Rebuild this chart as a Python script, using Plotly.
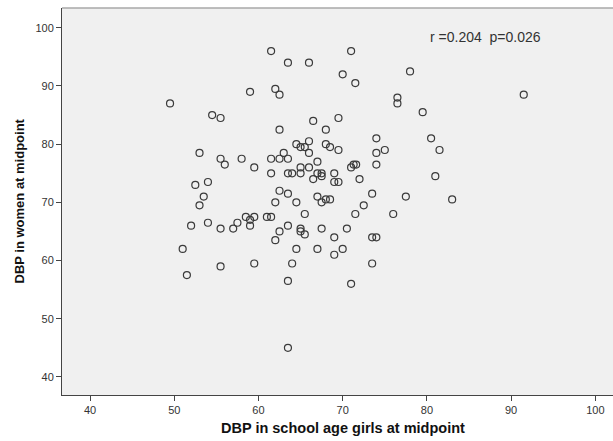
import plotly.graph_objects as go

# DBP in school age girls at midpoint (x) vs DBP in women at midpoint (y)
girls_dbp = [
    61.5, 71, 63.5, 66, 70, 78, 71.5, 59, 62, 62.5, 91.5, 76.5, 76.5, 49.5,
    54.5, 55.5, 79.5, 69.5, 66.5, 62.5, 68, 74, 80.5, 66, 64.5, 68, 65, 65.5,
    68.5, 69.5, 75, 81.5, 53, 63, 66, 74, 55.5, 58, 61.5, 62.5, 63.5, 67,
    56, 71.3, 71.6, 71, 74, 59.5, 65, 66, 61.5, 63.5, 64, 65, 67, 67.5,
    67.5, 69, 66.5, 72, 81, 69, 69.5, 54, 52.5, 62.5, 63.5, 73.5, 53.5, 67,
    77.5, 53, 62, 64.5, 67.5, 68, 68.5, 83, 72.5, 65.5, 71.5, 76, 58.5, 59.5,
    61, 61.5, 59, 57.5, 54, 52, 59, 63.5, 55.5, 57, 65, 67.5, 70.5, 62.5,
    65, 65.5, 69, 73.5, 74, 62, 51, 64.5, 67, 70, 69, 55.5, 59.5, 64,
    73.5, 51.5, 63.5, 71, 63.5,
]
women_dbp = [
    96, 96, 94, 94, 92, 92.5, 90.5, 89, 89.5, 88.5, 88.5, 88, 87, 87,
    85, 84.5, 85.5, 84.5, 84, 82.5, 82.5, 81, 81, 80.5, 80, 80, 79.5, 79.5,
    79.5, 79, 79, 79, 78.5, 78.5, 78.5, 78.5, 77.5, 77.5, 77.5, 77.5, 77.5, 77,
    76.5, 76.5, 76.5, 76, 76.5, 76, 76, 76, 75, 75, 75, 75, 75, 75,
    74.5, 75, 74, 74, 74.5, 73.5, 73.5, 73.5, 73, 72, 71.5, 71.5, 71, 71,
    71, 69.5, 70, 70, 70, 70.5, 70.5, 70.5, 69.5, 68, 68, 68, 67.5, 67.5,
    67.5, 67.5, 67, 66.5, 66.5, 66, 66, 66, 65.5, 65.5, 65.5, 65.5, 65.5, 65,
    65, 64.5, 64, 64, 64, 63.5, 62, 62, 62, 62, 61, 59, 59.5, 59.5,
    59.5, 57.5, 56.5, 56, 45,
]

x_ticks = [40, 50, 60, 70, 80, 90, 100]
y_ticks = [40, 50, 60, 70, 80, 90, 100]
stats_text = "r =0.204&nbsp;&nbsp;p=0.026"
x_title = "DBP in school age girls at midpoint"
y_title = "DBP in women at midpoint"

FONT = "Liberation Sans, Arial, sans-serif"

fig = go.Figure()
fig.add_trace(go.Scatter(
    x=girls_dbp, y=women_dbp, mode="markers",
    marker=dict(symbol="circle-open", size=7, color="#3a3a3a",
                line=dict(width=1.2, color="#3a3a3a")),
    showlegend=False, hoverinfo="x+y",
))

axis_common = dict(
    showgrid=False, zeroline=False, showline=True, linecolor="#444444",
    linewidth=1, ticks="outside", ticklen=5, tickwidth=1, tickcolor="#444444",
    tickfont=dict(family=FONT, size=11, color="#333333"),
)
fig.update_xaxes(range=[36.67, 102.1], tickvals=x_ticks, **axis_common)
fig.update_yaxes(range=[36.9, 103.4], tickvals=y_ticks, **axis_common)

fig.add_shape(type="line", xref="paper", yref="paper", x0=0, x1=1, y0=1, y1=1,
              line=dict(color="#a8a8a8", width=1.5))

fig.add_annotation(text=stats_text, xref="paper", yref="paper",
                   x=(485 - 62) / 551, y=(395 - 37) / 387,
                   showarrow=False, xanchor="center", yanchor="middle",
                   font=dict(family=FONT, size=14, color="#333333"))
fig.add_annotation(text="<b>" + x_title + "</b>", xref="paper", yref="paper",
                   x=(343 - 62) / 551, y=-(428 - 395) / 387,
                   showarrow=False, xanchor="center", yanchor="middle",
                   font=dict(family=FONT, size=14.5, color="#111111"))
fig.add_annotation(text="<b>" + y_title + "</b>", xref="paper", yref="paper",
                   x=(19 - 62) / 551, y=(395 - 201.5) / 387, textangle=-90,
                   showarrow=False, xanchor="center", yanchor="middle",
                   font=dict(family=FONT, size=13, color="#111111"))

fig.update_layout(
    width=613, height=441,
    margin=dict(l=62, r=0, t=8, b=46, pad=0),
    paper_bgcolor="white", plot_bgcolor="#f0f0f0",
)

fig.write_html(
    "out.html",
    config={"displayModeBar": False},
    post_script="document.body.style.margin='0';document.body.style.overflow='hidden';",
)
